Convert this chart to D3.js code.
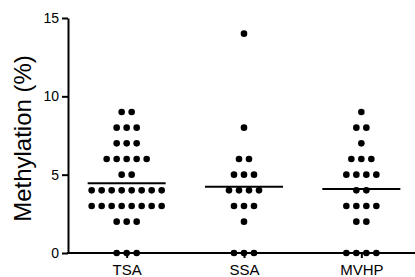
<!DOCTYPE html>
<html>
<head>
<meta charset="utf-8">
<script src="https://cdn.jsdelivr.net/npm/d3@7"></script>
<style>
  html, body { margin: 0; padding: 0; background: #fff; }
  svg { display: block; }
  text { font-family: Arial, "Liberation Sans", sans-serif; fill: #000; }
</style>
</head>
<body>
<svg id="chart" width="415" height="277"></svg>
<script>
// ---- Data ----
const categories = ["TSA", "SSA", "MVHP"];
const tsaValues = [9, 9, 8, 8, 8, 7, 7, 7, 6, 6, 6, 6, 6, 5, 5,
                   4, 4, 4, 4, 4, 4, 4, 4, 3, 3, 3, 3, 3, 3, 3, 3,
                   2, 2, 2, 0, 0, 0];
const ssaValues = [14, 8, 6, 6, 5, 5, 5, 4, 4, 4, 4, 3, 3, 3, 2, 0, 0, 0];
const mvhpValues = [9, 8, 8, 7, 6, 6, 6, 5, 5, 5, 5, 4, 4,
                    3, 3, 3, 3, 2, 2, 0, 0, 0, 0];
const yTicks = [0, 5, 10, 15];
const yLabel = "Methylation (%)";

const groups = [
  { name: categories[0], values: tsaValues },
  { name: categories[1], values: ssaValues },
  { name: categories[2], values: mvhpValues }
];

(function () {
// ---- Layout ----
const svg = d3.select("#chart");
const mLeft = 68, mTop = 18, mBottom = 253, mRight = 420;

const x = d3.scalePoint().domain(categories).range([mLeft, mRight]).padding(0.5);
const y = d3.scaleLinear().domain([0, 15]).range([mBottom, mTop]);

// y axis
const yAxis = svg.append("g")
  .attr("transform", `translate(${mLeft},0)`)
  .call(d3.axisLeft(y).tickValues(yTicks).tickSize(6).tickSizeOuter(0).tickPadding(3));
yAxis.selectAll("path, line").attr("stroke", "#000").attr("stroke-width", 2);
yAxis.selectAll("text").style("font-size", "14px").style("font-family", "Arial, 'Liberation Sans', sans-serif");

// x axis
const xAxis = svg.append("g")
  .attr("transform", `translate(0,${mBottom})`)
  .call(d3.axisBottom(x).tickSize(5).tickSizeOuter(0).tickPadding(6));
xAxis.select("path.domain").attr("d", `M${mLeft - 1},0H${415}`);
xAxis.selectAll("path, line").attr("stroke", "#000").attr("stroke-width", 2);
xAxis.selectAll("text").style("font-size", "15px").style("font-family", "Arial, 'Liberation Sans', sans-serif");

// y label
svg.append("text")
  .attr("transform", `translate(31,${(mTop + mBottom) / 2 + 3}) rotate(-90)`)
  .attr("text-anchor", "middle")
  .style("font-size", "24px")
  .text(yLabel);

// ---- Dots (scatter dot plot, rows centered on category) ----
const spacing = 10, r = 3.3;
groups.forEach(g => {
  const counts = d3.rollup(g.values, v => v.length, d => d);
  const seen = new Map();
  const pts = g.values.map(v => {
    const n = counts.get(v);
    const i = seen.get(v) || 0;
    seen.set(v, i + 1);
    return { v, dx: (i - (n - 1) / 2) * spacing };
  });
  svg.append("g").selectAll("circle")
    .data(pts)
    .join("circle")
    .attr("cx", d => x(g.name) + d.dx)
    .attr("cy", d => y(d.v))
    .attr("r", r)
    .attr("fill", "#000");

  const m = d3.mean(g.values);
  svg.append("line")
    .attr("x1", x(g.name) - 39)
    .attr("x2", x(g.name) + 39)
    .attr("y1", y(m))
    .attr("y2", y(m))
    .attr("stroke", "#000")
    .attr("stroke-width", 2);
});
})();
</script>
</body>
</html>
